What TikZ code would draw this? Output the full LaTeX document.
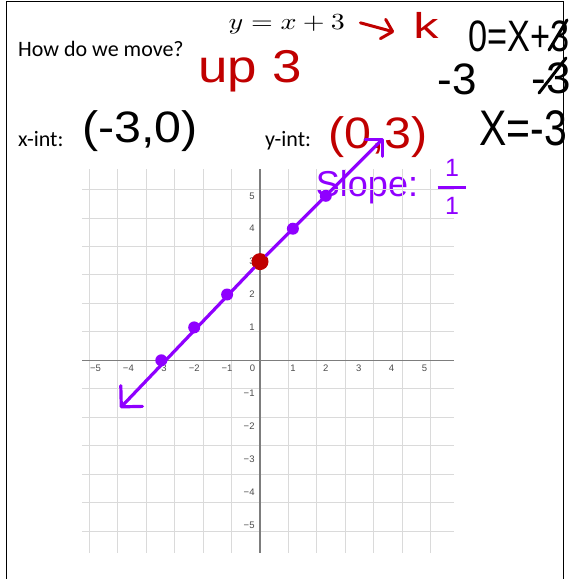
\documentclass[tikz,border=0pt]{standalone}
\usepackage[no-math]{fontspec}
\usepackage{amsmath}
\usepackage{tikz}
\usetikzlibrary{arrows.meta, positioning}
\setmainfont{Carlito}
\newfontfamily\handfont{Liberation Sans}
\definecolor{PenRed}{RGB}{192, 0, 0}
\definecolor{PenViolet}{RGB}{143, 0, 255}
\definecolor{GridGray}{RGB}{218, 218, 218}
\definecolor{AxisGray}{RGB}{125, 125, 125}

\begin{document}
\begin{tikzpicture}[x=1pt, y=-1pt,
        printed/.style={font=\fontsize{22}{26}\selectfont, inner sep=0pt, anchor=base west},
        hand/.style={font=\handfont\fontsize{#1}{#1}\selectfont, inner sep=0pt},
        hand/.default=44,
        ticklabel/.style={font=\handfont\fontsize{9.5}{10}\selectfont, text=black!70, inner sep=0pt},
        dot/.style={circle, fill=PenViolet, inner sep=0pt, minimum size=12pt},
        pen/.style={line width=3.2pt, line cap=round, draw=PenViolet},
        barb/.style={arrows={-Straight Barb[length=#1, width=2*#1, round]}}
    ]
        \useasboundingbox (0,0) rectangle (572,579);
        % Marco de la hoja (abierto por abajo)
        \draw[line width=1.3pt] (6.5,579) -- (6.5,1.3) -- (563.5,1.3) -- (563.5,579);

        % Texto impreso
        \node[xscale=2.8, yscale=2.3, inner sep=0pt, anchor=base west] (equation) at (228,29) {$y = x + 3$};
        \node[printed] (question) at (18,56) {How do we move?};
        \node[printed] (xint) at (18,146.5) {x-int:};
        \node[printed] (yint) at (265,146.5) {y-int:};

        % Anotaciones a mano
        \node[hand=36, text=PenRed, xscale=1.4] (kay) at (426,25) {k};
        \draw[line width=3pt, line cap=round, draw=PenRed, barb=10pt] ([shift={(15,-1)}]equation.east) -- ([shift={(-19,7)}]kay.west);
        \node[hand=46, text=PenRed, xscale=1.15] (up) at (250,71) {up 3};
        \node[hand, xscale=1.1] (xpoint) at (140,131) {(-3,0)};
        \node[hand, text=PenRed, xscale=1.1] (ypoint) at (378,137) {(0,3)};
        \node[hand, xscale=0.78] (zero) at (519,36) {0=X+3};
        \node[hand] (minusleft) at (457,79) {-3};
        \node[hand] (minusright) at (551,78) {-3};
        \draw[line width=3pt, line cap=round] (539,93) -- (566,58) (549,50) -- (567,20);
        \node[hand=50, xscale=0.82] (solution) at (523,128) {X=-3};
        \node[hand=36, text=PenViolet] (slope) at (367,187) {Slope:};
        \node[text=PenViolet, scale=2.5, inner sep=0pt] (rise) at (452,187)
            {$\genfrac{}{}{1.2pt}{0}{\hspace{3pt}\text{\handfont 1}\hspace{3pt}}{\text{\handfont 1}}$};

        % Plano cartesiano
        \begin{scope}[shift={(260,360.3)}, x=32.9pt, y=32.9pt]
            \draw[GridGray, line width=1pt] (-5.4,-5.85) grid (5.9,5.8);
            \draw[AxisGray, line width=1.2pt] (-5.4,0) -- (5.9,0) (0,-5.85) -- (0,5.8);
            \foreach \n in {1,...,5} {
                \node[ticklabel] (xpos\n) at (\n,-0.24) {\n};
                \node[ticklabel] (xneg\n) at (-\n,-0.24) {−\n};
                \node[ticklabel, anchor=east] (ypos\n) at (-0.16,\n) {\n};
                \node[ticklabel, anchor=east] (yneg\n) at (-0.16,-\n) {−\n};
            }
            \node[ticklabel] (origin) at (-0.23,-0.24) {0};

            % Puntos de la recta y = x + 3
            \node[dot] (pa) at (-3,0) {};
            \node[dot] (pb) at (-2,1) {};
            \node[dot] (pc) at (-1,2) {};
            \node[dot] (pd) at (1,4) {};
            \node[dot] (pe) at (2,5) {};
            \node[dot, fill=PenRed, minimum size=17pt] (yhit) at (0,3) {};
            \coordinate (lowtip) at (-4.25,-1.45);
            \coordinate (hightip) at (3.75,6.75);
            \draw[pen, barb=15pt] (yhit) -- (lowtip);
            \draw[pen, barb=12pt] (yhit) -- (hightip);
        \end{scope}
    \end{tikzpicture}
\end{document}
